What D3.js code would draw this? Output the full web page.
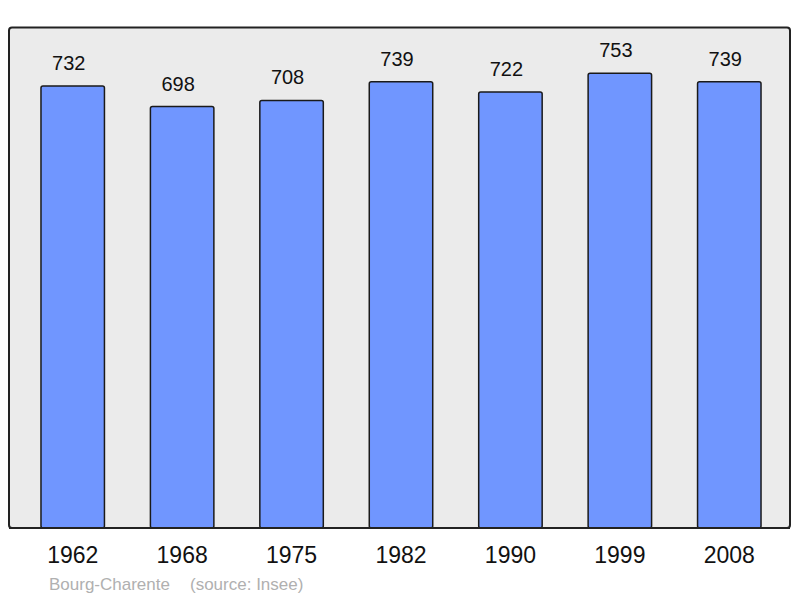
<!DOCTYPE html>
<html><head><meta charset="utf-8">
<script src="https://cdn.jsdelivr.net/npm/d3@7"></script>
<style>body{margin:0;background:#fff}svg{display:block}</style>
</head><body>
<script>
const years = ["1962","1968","1975","1982","1990","1999","2008"];
const population = [732,698,708,739,722,753,739];
const placeName = "Bourg-Charente";
const sourceText = "(source: Insee)";

const W = 800, H = 598;
const svg = d3.select("body").append("svg").attr("width", W).attr("height", H);
const font = "'Liberation Sans', Arial, sans-serif";

svg.append("rect").attr("x",9).attr("y",27.5).attr("width",781).attr("height",500.5)
  .attr("rx",3).attr("fill","#ebebeb").attr("stroke","#222").attr("stroke-width",2);

const x = d3.scaleBand().domain(years).range([18,784]).paddingInner(0.42).paddingOuter(0.21);
const y = d3.scaleLinear().domain([0,828]).range([528,28]);

svg.selectAll("rect.bar").data(years).join("rect").attr("class","bar")
  .attr("x", d=>x(d)).attr("width", x.bandwidth())
  .attr("y", (d,i)=>y(population[i])).attr("height",(d,i)=>y(0)-y(population[i]))
  .attr("rx",2).attr("fill","#7096ff").attr("stroke","#1a1a1a").attr("stroke-width",1.5);

svg.selectAll("text.val").data(years).join("text").attr("class","val")
  .attr("x", d=>x(d)+x.bandwidth()/2-4).attr("y",(d,i)=>y(population[i])-16)
  .attr("text-anchor","middle").attr("font-family",font).attr("font-size",20).attr("fill","#111")
  .text((d,i)=>population[i]);

// redraw frame bottom line over bars
svg.append("line").attr("x1",9).attr("x2",790).attr("y1",528).attr("y2",528)
  .attr("stroke","#222").attr("stroke-width",2);

const ax = svg.append("g").attr("transform","translate(0,528)")
  .call(d3.axisBottom(x).tickSize(0).tickPadding(19));
ax.select(".domain").remove();
ax.selectAll("text").attr("font-family",font).attr("font-size",23).attr("fill","#111");

svg.append("text").attr("x",49).attr("y",590).attr("font-family",font).attr("font-size",17)
  .attr("fill","#b0b0b0").text(placeName);
svg.append("text").attr("x",190).attr("y",590).attr("font-family",font).attr("font-size",17)
  .attr("fill","#b0b0b0").text(sourceText);
</script>
</body></html>
